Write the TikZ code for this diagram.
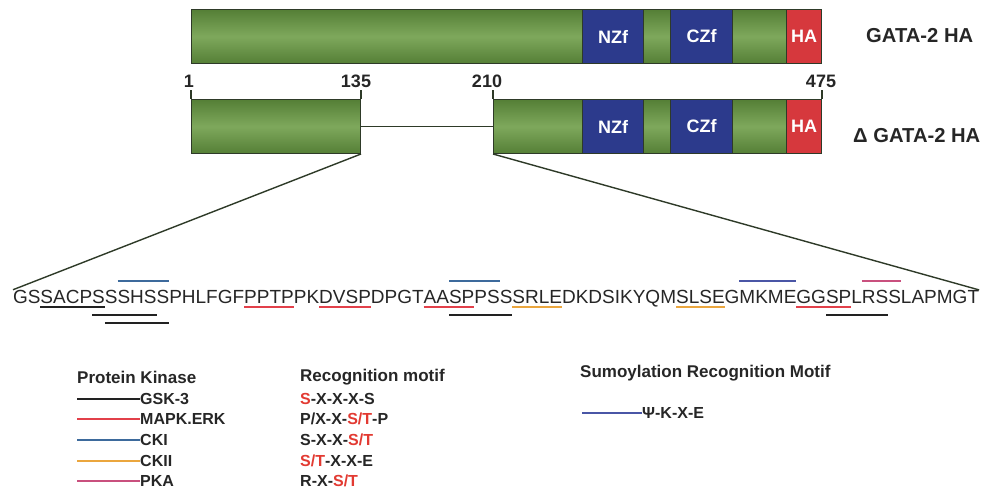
\documentclass[tikz,border=0pt]{standalone}
\usepackage{fontspec}
\setmainfont{Liberation Sans}
\usetikzlibrary{calc}
\definecolor{gmid}{HTML}{7EA85C}
\definecolor{gdark}{HTML}{557F36}
\definecolor{edge}{HTML}{2E3A28}
\definecolor{navy}{HTML}{2C3A8C}
\definecolor{hared}{HTML}{D6383D}
\definecolor{ink}{HTML}{262626}
\definecolor{cgsk}{HTML}{222222}
\definecolor{cmapk}{HTML}{E2404A}
\definecolor{ccki}{HTML}{3D6A9C}
\definecolor{cckii}{HTML}{EBA63E}
\definecolor{cpka}{HTML}{C9507E}
\definecolor{csumo}{HTML}{4A56A6}
\definecolor{motred}{HTML}{E23A32}
\newcommand{\mot}[4]{\draw[#1] ([yshift=#4]c#2.base west) -- ([yshift=#4]c#3.base east);}
\newcommand{\rd}[1]{\textcolor{motred}{#1}}
\tikzset{
  box/.style={rectangle, draw=edge, line width=1pt, minimum height=54pt, inner sep=0pt,
    anchor=north west, font=\bfseries\fontsize{18}{18}\selectfont, text=white},
  gbox/.style={box, top color=gdark, bottom color=gdark, middle color=gmid},
  nbox/.style={box, fill=navy},
  hbox/.style={box, fill=hared},
  thinline/.style={draw=edge, line width=1.4pt},
  numlab/.style={font=\bfseries\fontsize{18}{18}\selectfont, text=ink, inner sep=0pt, anchor=base},
  barlab/.style={font=\bfseries\fontsize{20.2}{20.2}\selectfont, text=ink, inner sep=0pt, anchor=west},
  seqch/.style={font=\fontsize{19}{19}\selectfont, text=ink, inner sep=0pt, outer sep=0pt, anchor=base west},
  mk/.style={line width=2.4pt},
  gsk/.style={mk, draw=cgsk},
  mapk/.style={mk, draw=cmapk},
  cki/.style={mk, draw=ccki},
  ckii/.style={mk, draw=cckii},
  pka/.style={mk, draw=cpka},
  sumo/.style={mk, draw=csumo},
  leghead/.style={font=\bfseries\fontsize{17}{17}\selectfont, text=ink, inner sep=0pt, anchor=west},
  legtext/.style={font=\bfseries\fontsize{16}{16}\selectfont, text=ink, inner sep=0pt, anchor=west},
}
\begin{document}
\begin{tikzpicture}[x=1pt,y=-1pt]
\useasboundingbox (0,0) rectangle (992,494);
% full-length protein
\node[gbox, minimum width=391pt] (t1) at (191,9) {};
\node[nbox, minimum width=61pt] (tN) at (582,9) {NZf};
\node[gbox, minimum width=27pt] (t2) at (643,9) {};
\node[nbox, minimum width=62pt] (tC) at (670,9) {CZf};
\node[gbox, minimum width=54pt] (t3) at (732,9) {};
\node[hbox, minimum width=35pt] (tH) at (786,9) {HA};
\node[barlab] (lab1) at (866,36) {GATA-2 HA};
% deletion mutant
\node[gbox, minimum width=169pt] (b1) at (191,99) {};
\node[gbox, minimum width=89pt] (b2) at (493,99) {};
\node[nbox, minimum width=61pt] (bN) at (582,99) {NZf};
\node[gbox, minimum width=27pt] (b3) at (643,99) {};
\node[nbox, minimum width=62pt] (bC) at (670,99) {CZf};
\node[gbox, minimum width=54pt] (b4) at (732,99) {};
\node[hbox, minimum width=35pt] (bH) at (786,99) {HA};
\node[barlab] (lab2) at (853,136) {Δ GATA-2 HA};
\draw[thinline] (b1.east) -- (b2.west);
% residue numbers
\node[numlab] (n1) at (189,88) {1};
\node[numlab] (n135) at (356,88) {135};
\node[numlab] (n210) at (487,88) {210};
\node[numlab] (n475) at (821,88) {475};
\draw[thinline] (b1.north west) -- ++(0,-9);
\draw[thinline] (b1.north east) -- ++(0,-9);
\draw[thinline] (b2.north west) -- ++(0,-9);
\draw[thinline] (bH.north east) -- ++(0,-9);
% sequence
\node[seqch] (c0) at (12,303) {};
\foreach \ch [count=\i, remember=\i as \p (initially 0)] in
 {G,S,S,A,C,P,S,S,S,H,S,S,P,H,L,F,G,F,P,P,T,P,P,K,D,V,S,P,D,P,G,T,A,A,S,P,P,S,S,S,R,L,E,D,K,D,S,I,K,Y,Q,M,S,L,S,E,G,M,K,M,E,G,G,S,P,L,R,S,S,L,A,P,M,G,T}
 {\node[seqch] (c\i) at (c\p.base east) {\ch};}
\draw[thinline] (b1.south east) -- (c1.north west);
\draw[thinline] (b2.south west) -- (c75.north east);
% motif marks
\mot{gsk}{3}{7}{-4pt}
\mot{gsk}{7}{11}{-12pt}
\mot{gsk}{8}{12}{-20pt}
\mot{cki}{9}{12}{22pt}
\mot{mapk}{19}{22}{-4pt}
\mot{mapk}{25}{28}{-4pt}
\mot{mapk}{33}{36}{-4pt}
\mot{cki}{35}{38}{22pt}
\mot{gsk}{35}{39}{-12pt}
\mot{ckii}{40}{43}{-4pt}
\mot{ckii}{53}{56}{-4pt}
\mot{sumo}{58}{61}{22pt}
\mot{mapk}{62}{65}{-4pt}
\mot{pka}{67}{69}{22pt}
\mot{gsk}{64}{68}{-12pt}
% legend
\node[leghead] (hk) at (77,377) {Protein Kinase};
\node[leghead] (hm) at (300,377) {Recognition motif};
\node[leghead] (hs) at (580,373) {Sumoylation Recognition Motif};
\node[legtext] (k1) at (140,399) {GSK-3};
\node[legtext] (k2) at (140,419) {MAPK.ERK};
\node[legtext] (k3) at (140,440) {CKI};
\node[legtext] (k4) at (140,461) {CKII};
\node[legtext] (k5) at (140,481) {PKA};
\coordinate (s1) at (77,399);
\coordinate (s2) at (77,419);
\coordinate (s3) at (77,440);
\coordinate (s4) at (77,461);
\coordinate (s5) at (77,481);
\draw[gsk] (s1) -- (k1.west);
\draw[mapk, line width=1.8pt] (s2) -- (k2.west);
\draw[cki] (s3) -- (k3.west);
\draw[ckii, line width=1.8pt] (s4) -- (k4.west);
\draw[pka] (s5) -- (k5.west);
\node[legtext] (m1) at (300,399) {\rd{S}-X-X-X-S};
\node[legtext] (m2) at (300,419) {P/X-X-\rd{S/T}-P};
\node[legtext] (m3) at (300,440) {S-X-X-\rd{S/T}};
\node[legtext] (m4) at (300,461) {\rd{S/T}-X-X-E};
\node[legtext] (m5) at (300,481) {R-X-\rd{S/T}};
\node[legtext] (su) at (642,413) {Ψ-K-X-E};
\coordinate (s6) at (582,413);
\draw[sumo] (s6) -- (su.west);
\end{tikzpicture}
\end{document}
